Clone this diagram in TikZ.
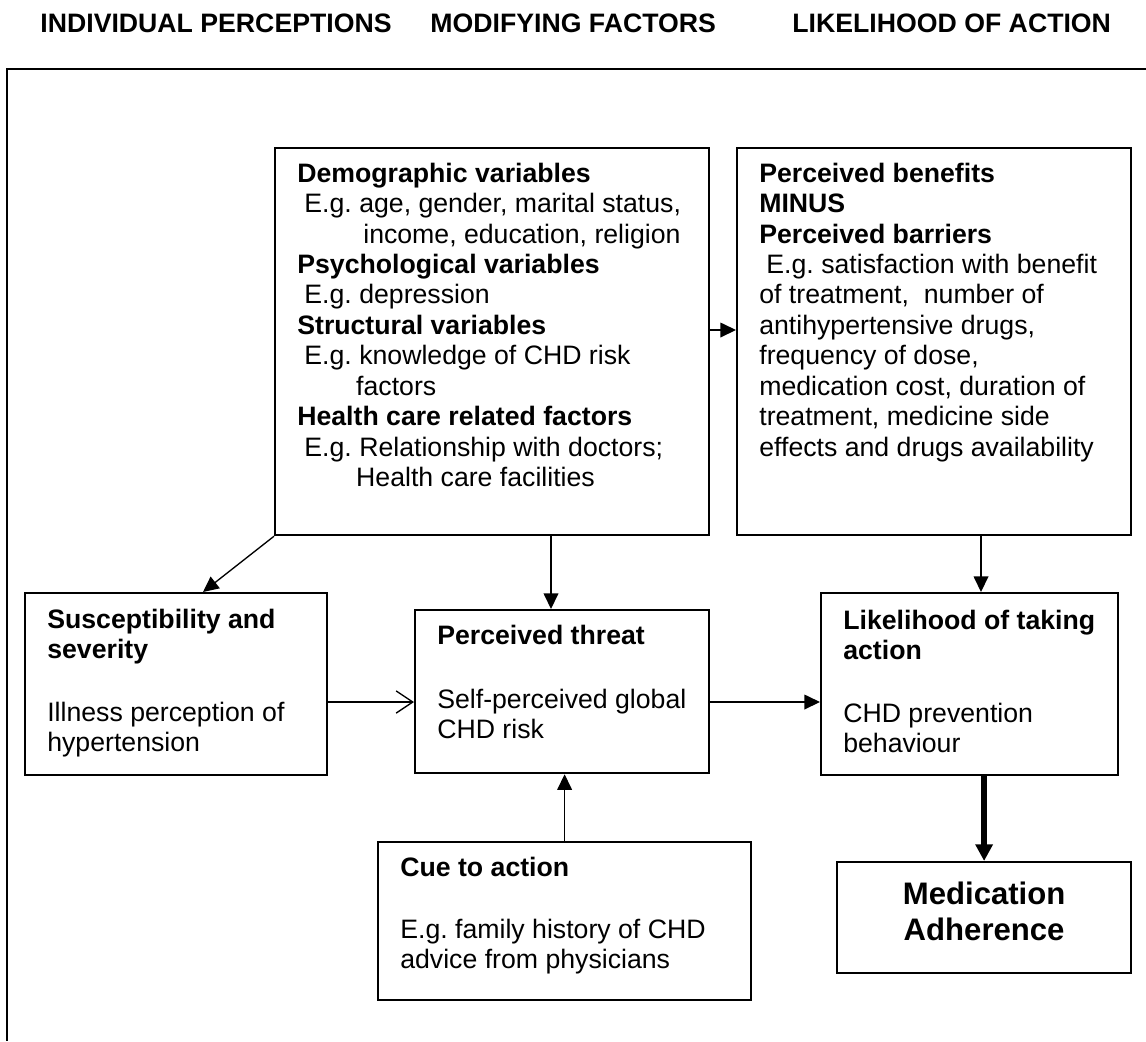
\documentclass[tikz,border=0pt]{standalone}
\usepackage{fontspec}
\setmainfont{Liberation Sans}
\usetikzlibrary{arrows.meta}
\frenchspacing
% text block inside a box: width, height, lines
\newcommand{\boxtext}[3]{\hspace*{10pt}\parbox[t][#2][t]{#1}{\raggedright #3}}
\begin{document}
\begin{tikzpicture}[x=0.45pt, y=-0.45pt,
    blk/.style={draw, line width=1pt, inner sep=0pt, anchor=north west,
      font=\fontsize{12}{13.7}\selectfont},
    con/.style={line width=0.6pt, -{Triangle[length=7pt,width=6.6pt]}},
    opn/.style={line width=0.6pt, -{Straight Barb[length=7.5pt,width=10pt,line width=0.6pt]}},
    thk/.style={line width=2.6pt, -{Triangle[length=7.5pt,width=7.5pt]}},
    hdr/.style={anchor=base west, inner sep=0pt, font=\fontsize{12}{14}\selectfont\bfseries}]
  \useasboundingbox (0,0) rectangle (1146,1041);

  % headings
  \node[hdr] (hdrind) at (40,32) {INDIVIDUAL PERCEPTIONS};
  \node[hdr] (hdrmod) at (430,32) {MODIFYING FACTORS};
  \node[hdr] (hdrlik) at (792,32) {LIKELIHOOD OF ACTION};

  % frame
  \draw[line width=0.9pt] (1146,69) -- (7,69) -- (7,1041);

  % boxes
  \node[blk] (demo) at (274,147) {\boxtext{185.3pt}{174.15pt}{%
    \rule{0pt}{15.3pt}\textbf{Demographic variables}\\
    \hspace*{3.2pt}E.g. age, gender, marital status,\\
    \hspace*{29.7pt}income, education, religion\\
    \textbf{Psychological variables}\\
    \hspace*{3.2pt}E.g. depression\\
    \textbf{Structural variables}\\
    \hspace*{3.2pt}E.g. knowledge of CHD risk\\
    \hspace*{26.5pt}factors\\
    \textbf{Health care related factors}\\
    \hspace*{3.2pt}E.g. Relationship with doctors;\\
    \hspace*{26.5pt}Health care facilities}};
  \node[blk] (ben) at (736,147) {\boxtext{167.3pt}{174.15pt}{%
    \rule{0pt}{15.3pt}\textbf{Perceived benefits}\\
    \textbf{MINUS}\\
    \textbf{Perceived barriers}\\
    \hspace*{3.2pt}E.g. satisfaction with benefit\\
    of treatment, \ number of\\
    antihypertensive drugs,\\
    frequency of dose,\\
    medication cost, duration of\\
    treatment, medicine side\\
    effects and drugs availability}};
  \node[blk] (susc) at (24,592) {\boxtext{125.9pt}{81.9pt}{%
    \rule{0pt}{15.75pt}\textbf{Susceptibility and}\\
    \textbf{severity}\\[14.6pt]
    Illness perception of\\
    hypertension}};
  \node[blk] (threat) at (414,609) {\boxtext{122.3pt}{73.35pt}{%
    \rule{0pt}{15.3pt}\textbf{Perceived threat}\\[15.1pt]
    Self-perceived global\\
    CHD risk}};
  \node[blk] (lik) at (820,592) {\boxtext{123.65pt}{81.9pt}{%
    \rule{0pt}{16.2pt}\textbf{Likelihood of taking}\\
    \textbf{action}\\[14.6pt]
    CHD prevention\\
    behaviour}};
  \node[blk] (cue) at (377,841) {\boxtext{157.85pt}{71.1pt}{%
    \rule{0pt}{15.3pt}\textbf{Cue to action}\\[14.2pt]
    E.g. family history of CHD\\
    advice from physicians}};
  \node[blk, font=\fontsize{14}{16.2}\selectfont\bfseries] (med) at (836,861)
    {\parbox[t][49.95pt][t]{132.3pt}{\centering\rule{0pt}{18.9pt}Medication\\ Adherence}};

  % connectors
  \draw[con] (demo.east |- 0,330) -- (ben.west |- 0,330);
  \draw[con] (demo.south west) -- (susc.north -| 203,0);
  \draw[con] (demo.south -| 551,0) -- (threat.north -| 551,0);
  \draw[con] (ben.south -| 981,0) -- (lik.north -| 981,0);
  \draw[opn] (susc.east |- 0,702) -- (threat.west |- 0,702);
  \draw[con] (threat.east |- 0,702) -- (lik.west |- 0,702);
  \draw[con] (cue.north) -- (threat.south -| cue.north);
  \draw[thk] (lik.south -| med.north) -- (med.north);
\end{tikzpicture}
\end{document}
